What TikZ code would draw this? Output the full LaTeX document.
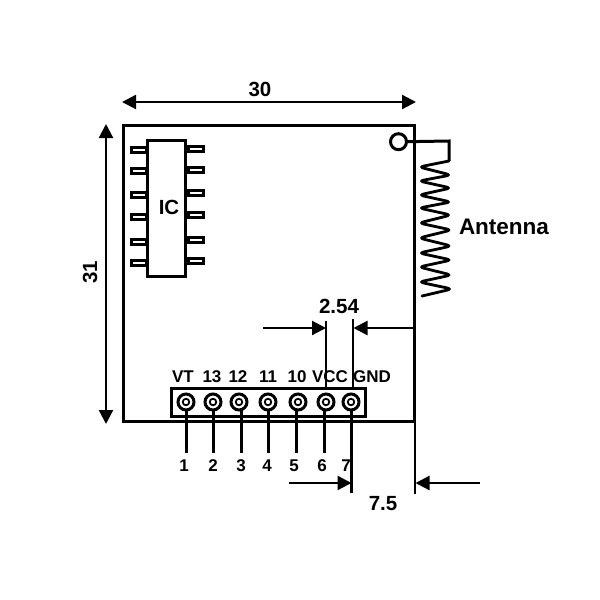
\documentclass[tikz,border=0pt]{standalone}
\usepackage{fontspec}
\setmainfont{Liberation Sans}
\usetikzlibrary{arrows.meta}
\tikzset{
  x=1pt,y=-1pt,
  thick line/.style={line width=3pt},
  thin line/.style={line width=2pt},
  box/.style={draw=black,line width=3pt,fill=white,inner sep=0pt,outer sep=0pt},
  pinbox/.style={draw=black,line width=3pt,fill=white,inner sep=0pt,outer sep=0pt,minimum width=15pt,minimum height=4.5pt},
  dim/.style={line width=2.2pt,-{Triangle[length=14pt,width=14pt]},shorten >=-0.5pt},
  dimboth/.style={line width=2.2pt,{Triangle[length=14pt,width=14pt]}-{Triangle[length=14pt,width=14pt]}},
  big/.style={font=\bfseries\fontsize{20.5}{20.5}\selectfont,inner sep=0pt},
  small/.style={font=\bfseries\fontsize{17}{17}\selectfont,inner sep=0pt},
}
\begin{document}
\begin{tikzpicture}
\useasboundingbox (0,0) rectangle (600,600);
\fill[white] (0,0) rectangle (600,600);

% board
\node[box,minimum width=291pt,minimum height=296pt] (board) at (268.7,273.7) {};

% IC
\foreach \n/\y in {1/150,2/171,3/195,4/217,5/242,6/263}
  \node[pinbox] (pl\n) at (138.5,\y) {};
\foreach \n/\y in {1/149,2/170,3/193,4/215,5/240,6/261}
  \node[pinbox] (pr\n) at (195.5,\y) {};
\node[box,minimum width=38pt,minimum height=136pt] (ic) at (166.8,208) {};
\node[big] (iclabel) at (169,207) {IC};

% antenna
\coordinate (a1) at (449,141);
\coordinate (a2) at (449,161);
\node[draw=black,line width=3pt,fill=white,circle,minimum size=16pt,inner sep=0pt,outer sep=0pt] (hole) at (398.5,141.7) {};
\draw[thick line,line join=miter] (hole.east) -- (a1) -- (a2);
\draw[line width=2.8pt,rounded corners=5pt,line cap=round]
  (a2) -- (419,167) -- (451,175) -- (419,181) -- (451,188) -- (419,195) -- (451,202)
  -- (419,208) -- (451,215) -- (419,223) -- (451.5,230) -- (419,238) -- (451.5,246)
  -- (419,253) -- (451.5,260) -- (419,267) -- (451.5,275) -- (419,282) -- (452,289) -- (422,296);
\node[font=\bfseries\fontsize{22.5}{22.5}\selectfont,inner sep=0pt] (antenna) at (504,227) {Antenna};

% header
\node[box,minimum width=194pt,minimum height=28pt] (header) at (268.5,402) {};
\foreach \n/\x/\xb/\yb in {1/186/186/453,2/213/213/453,3/239/241/453,4/268/268/453,5/298/296/453,6/326/324/453,7/351/351/493}{
  \coordinate (lead\n) at (\xb,\yb);
  \node[circle,draw=black,line width=3pt,fill=white,minimum size=16pt,inner sep=0pt,outer sep=0pt] (p\n) at (\x,402) {};
  \node[circle,draw=black,line width=1.8pt,fill=white,minimum size=6.5pt,inner sep=0pt,outer sep=0pt] (q\n) at (\x,402) {};
  \draw[thick line] (\xb,411) -- (lead\n);
}

% pin numbers
\foreach \t/\x in {1/184,2/213,3/241,4/267,5/294,6/322,7/346}
  \node[small] (n\t) at (\x,466) {\t};
% pin names
\node[small] (vt) at (183,377) {VT};
\node[small] (l13) at (212,377) {13};
\node[small] (l12) at (238,377) {12};
\node[small] (l11) at (268,377) {11};
\node[small] (l10) at (297,377) {10};
\node[small] (vcc) at (330,377) {VCC};
\node[small] (gnd) at (372,377) {GND};

% dimension 30
\coordinate (t1) at (122,102); \coordinate (t2) at (416,102);
\draw[dimboth] (t1) -- (t2);
\node[big] (d30) at (260,89) {30};
% dimension 31
\coordinate (s1) at (106,124); \coordinate (s2) at (106,424);
\draw[dimboth] (s1) -- (s2);
\node[big,rotate=90] (d31) at (90,272) {31};

% dimension 2.54
\coordinate (e1) at (326,321); \coordinate (e1b) at (326,388);
\coordinate (e2) at (353,319); \coordinate (e2b) at (353,388);
\draw[thin line] (e1) -- (e1b);
\draw[thin line] (e2) -- (e2b);
\coordinate (b1) at (263,328); \coordinate (b2) at (325.5,328);
\coordinate (b3) at (415,328); \coordinate (b4) at (354,328);
\draw[dim] (b1) -- (b2);
\draw[dim] (b3) -- (b4);
\node[big] (d254) at (339,306) {2.54};

% dimension 7.5
\coordinate (r0) at (415,422); \coordinate (r1) at (415,494);
\draw[thin line] (r0) -- (r1);
\coordinate (c1) at (289,483); \coordinate (c2) at (351,483);
\coordinate (c3) at (480,483); \coordinate (c4) at (416,483);
\draw[dim] (c1) -- (c2);
\draw[dim] (c3) -- (c4);
\node[big] (d75) at (383,504) {7.5};
\end{tikzpicture}
\end{document}
